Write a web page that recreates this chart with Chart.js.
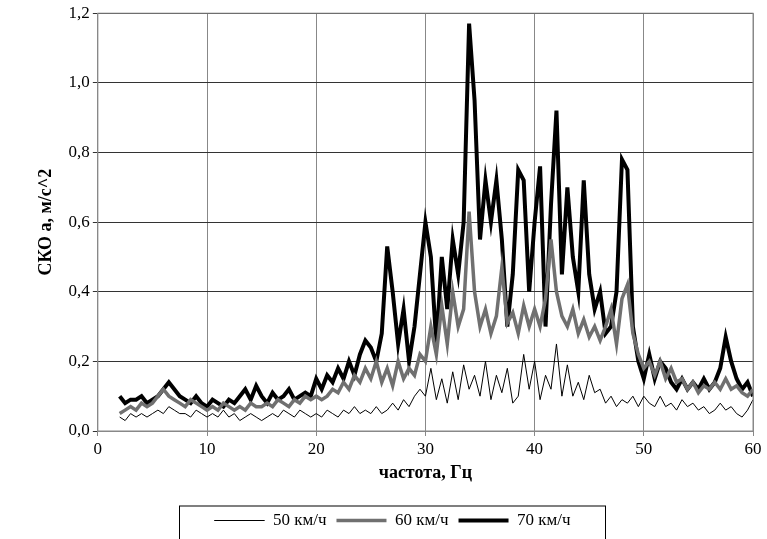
<!DOCTYPE html>
<html><head><meta charset="utf-8">
<script src="https://cdn.jsdelivr.net/npm/chart.js@4"></script>
<style>body{margin:0;background:#fff}#w{width:767px;height:539px}</style>
</head><body><div id="w"><canvas id="c"></canvas></div>
<script>
// частота 2..60 Гц, шаг 0,5
const freq = [];
for (let i = 0; i <= 116; i++) freq.push(2 + i * 0.5);

const v50 = [0.04,0.03,0.05,0.04,0.05,0.04,
  0.05,0.06,0.05,0.07,0.06,0.05,0.05,0.04,0.06,0.05,
  0.04,0.05,0.04,0.06,0.04,0.05,0.03,0.04,0.05,0.04,
  0.03,0.04,0.05,0.04,0.06,0.05,0.04,0.06,0.05,0.04,
  0.05,0.04,0.06,0.05,0.04,0.06,0.05,0.07,0.05,0.06,
  0.05,0.07,0.05,0.06,0.08,0.06,0.09,0.07,0.10,0.12,
  0.10,0.18,0.09,0.15,0.08,0.17,0.09,0.19,0.12,0.16,
  0.10,0.20,0.09,0.16,0.11,0.18,0.08,0.10,0.22,0.12,
  0.20,0.09,0.16,0.12,0.25,0.10,0.19,0.10,0.14,0.09,
  0.16,0.11,0.12,0.08,0.10,0.07,0.09,0.08,0.10,0.07,
  0.10,0.08,0.07,0.10,0.07,0.08,0.06,0.09,0.07,0.08,
  0.06,0.07,0.05,0.06,0.08,0.06,0.07,0.05,0.04,0.06,
  0.09];
const v60 = [0.05,0.06,0.07,0.06,0.08,0.07,
  0.08,0.10,0.12,0.10,0.09,0.08,0.07,0.09,0.08,0.07,
  0.06,0.07,0.06,0.08,0.07,0.06,0.07,0.06,0.08,0.07,
  0.07,0.08,0.07,0.09,0.08,0.07,0.09,0.08,0.10,0.09,
  0.10,0.09,0.10,0.12,0.11,0.14,0.12,0.16,0.14,0.18,
  0.15,0.20,0.14,0.18,0.13,0.20,0.15,0.18,0.16,0.22,
  0.20,0.30,0.22,0.36,0.25,0.40,0.30,0.35,0.63,0.40,
  0.30,0.35,0.28,0.33,0.47,0.31,0.34,0.28,0.36,0.30,
  0.35,0.30,0.38,0.55,0.40,0.33,0.30,0.35,0.28,0.32,
  0.27,0.30,0.26,0.30,0.35,0.25,0.38,0.42,0.28,0.22,
  0.18,0.20,0.16,0.20,0.15,0.18,0.14,0.15,0.12,0.14,
  0.11,0.13,0.12,0.14,0.12,0.15,0.12,0.13,0.11,0.10,
  0.12];
const v70 = [0.10,0.08,0.09,0.09,0.10,0.08,
  0.09,0.10,0.12,0.14,0.12,0.10,0.09,0.08,0.10,0.08,
  0.07,0.09,0.08,0.07,0.09,0.08,0.10,0.12,0.09,0.13,
  0.10,0.08,0.11,0.09,0.10,0.12,0.09,0.10,0.11,0.10,
  0.15,0.12,0.16,0.14,0.18,0.15,0.20,0.16,0.22,0.26,
  0.24,0.20,0.28,0.53,0.40,0.25,0.35,0.20,0.30,0.45,
  0.60,0.50,0.25,0.50,0.35,0.55,0.45,0.60,1.17,0.95,
  0.55,0.72,0.60,0.72,0.55,0.30,0.45,0.75,0.72,0.40,
  0.60,0.76,0.30,0.65,0.92,0.45,0.70,0.50,0.40,0.72,
  0.45,0.35,0.40,0.28,0.30,0.40,0.78,0.75,0.30,0.20,
  0.15,0.22,0.15,0.20,0.18,0.14,0.12,0.15,0.12,0.14,
  0.12,0.15,0.12,0.14,0.18,0.27,0.20,0.15,0.12,0.14,
  0.10];

const pts = v => freq.map((f, i) => ({x: f, y: v[i]}));
const ff = 'Liberation Serif';
new Chart(document.getElementById('c'), {
  type: 'line',
  data: {datasets: [
    {label: '50 км/ч', data: pts(v50), borderColor: '#000', borderWidth: 1, pointRadius: 0, tension: 0},
    {label: '60 км/ч', data: pts(v60), borderColor: '#707070', borderWidth: 3.5, pointRadius: 0, tension: 0},
    {label: '70 км/ч', data: pts(v70), borderColor: '#000', borderWidth: 4, pointRadius: 0, tension: 0}
  ]},
  options: {
    responsive: true, maintainAspectRatio: false, animation: false,
    layout: {padding: {left: 32, right: 14, top: 10, bottom: 0}},
    plugins: {
      legend: {position: 'bottom', labels: {color: '#000', font: {family: ff, size: 17}, boxWidth: 50, boxHeight: 0, padding: 10}},
      tooltip: {enabled: false}
    },
    scales: {
      x: {type: 'linear', min: 0, max: 60,
        ticks: {stepSize: 10, color: '#000', font: {family: ff, size: 17}},
        grid: {color: '#888', tickLength: 5},
        border: {color: '#888'},
        title: {display: true, text: 'частота, Гц', color: '#000', font: {family: ff, size: 18, weight: 'bold'}, padding: {top: 0, bottom: 18}}},
      y: {min: 0, max: 1.2,
        ticks: {stepSize: 0.2, color: '#000', font: {family: ff, size: 17},
          callback: v => v.toFixed(1).replace('.', ',')},
        grid: {color: '#333', tickLength: 5},
        border: {color: '#888'},
        title: {display: true, text: 'СКО a, м/с^2', color: '#000', font: {family: ff, size: 18, weight: 'bold'}, padding: {bottom: 8}}}
    }
  },
  plugins: [{id: 'box', afterDraw(ch) {
    const l = ch.legend, c = ch.ctx;
    c.save(); c.strokeStyle = '#000'; c.lineWidth = 1;
    const w = 426, x0 = (l.left + l.right) / 2 - w / 2;
    c.strokeRect(x0, l.top + 4, w, 34);
    const a = ch.chartArea; c.strokeStyle = '#888';
    c.strokeRect(a.left, a.top, a.right - a.left, a.bottom - a.top);
    c.restore();
  }}]
});
</script></body></html>
